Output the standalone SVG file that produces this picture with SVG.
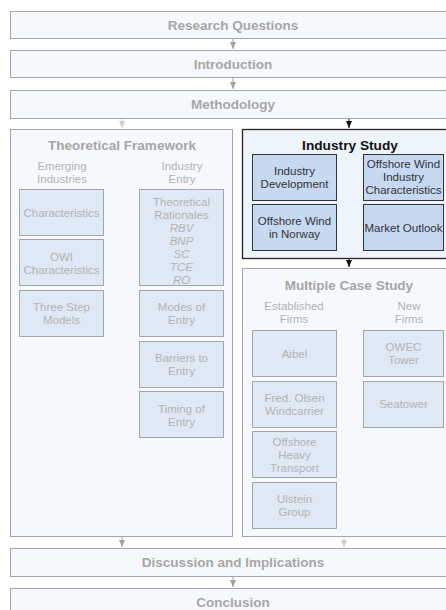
<svg xmlns="http://www.w3.org/2000/svg" width="446" height="610" viewBox="0 0 446 610">
<defs>
<style>
text{font-family:"Liberation Sans",Arial,sans-serif;text-anchor:middle}
.band{fill:#f5f9fd;stroke:#a6a6a6;stroke-width:1}
.cont{fill:#f5f9fd;stroke:#a6a6a6;stroke-width:1}
.contA{fill:#eef4fb;stroke:#262626;stroke-width:1.3}
.box{fill:#dfe8f5;stroke:#a6a6a6;stroke-width:1}
.boxA{fill:#c6d9f1;stroke:#333;stroke-width:1}
.t{font-size:13.5px;font-weight:bold;fill:#a6a6a6}
.tA{font-size:13.7px;font-weight:bold;fill:#111}
.s{font-size:11.5px;fill:#b3b3b3}
.sA{font-size:11.5px;fill:#333}
.i{font-style:italic}
.c1{fill:none;stroke:#a0a0a0;stroke-width:1}
.c2{fill:none;stroke:#d0d0d0;stroke-width:1}
.c3{fill:none;stroke:#111;stroke-width:1}
</style>
<marker id="m1" markerWidth="8" markerHeight="8" refX="7" refY="4" orient="auto" markerUnits="userSpaceOnUse"><path d="M0,1 L7,4 L0,7 Z" fill="#a0a0a0"/></marker>
<marker id="m2" markerWidth="8" markerHeight="8" refX="7" refY="4" orient="auto" markerUnits="userSpaceOnUse"><path d="M0,1 L7,4 L0,7 Z" fill="#d0d0d0"/></marker>
<marker id="m3" markerWidth="8" markerHeight="8" refX="7" refY="4" orient="auto" markerUnits="userSpaceOnUse"><path d="M0,1 L7,4 L0,7 Z" fill="#111"/></marker>
</defs>
<rect width="446" height="610" fill="#fff"/>

<g id="connectors">
<path class="c1" d="M233,39 V49" marker-end="url(#m1)"/>
<path class="c1" d="M233,77 V89" marker-end="url(#m1)"/>
<path class="c2" d="M122,118 V128" marker-end="url(#m2)"/>
<path class="c3" d="M343,118.5 H349 V128" marker-end="url(#m3)"/>
<path class="c3" d="M349,258 V267" marker-end="url(#m3)"/>
<path class="c1" d="M122,536 V547" marker-end="url(#m1)"/>
<path class="c2" d="M344,536 V547" marker-end="url(#m2)"/>
<path class="c1" d="M233,576 V587" marker-end="url(#m1)"/>
</g>

<g id="research-questions"><rect class="band" x="10.5" y="11.5" width="446" height="27"/><text class="t" x="233" y="29.5">Research Questions</text></g>
<g id="introduction"><rect class="band" x="10.5" y="50.5" width="446" height="27"/><text class="t" x="233" y="68.5">Introduction</text></g>
<g id="methodology"><rect class="band" x="10.5" y="90.5" width="446" height="28"/><text class="t" x="233" y="109">Methodology</text></g>

<g id="theoretical-framework">
<rect class="cont" x="10.5" y="129.5" width="222" height="407"/>
<text class="t" x="122" y="150">Theoretical Framework</text>
<text class="s" x="62" y="170">Emerging</text>
<text class="s" x="62" y="183">Industries</text>
<text class="s" x="182" y="170">Industry</text>
<text class="s" x="182" y="183">Entry</text>
</g>
<g id="characteristics"><rect class="box" x="19.5" y="189.5" width="84" height="46"/><text class="s" x="61.5" y="217">Characteristics</text></g>
<g id="owi-characteristics"><rect class="box" x="19.5" y="239.5" width="84" height="46"/><text class="s" x="61.5" y="261">OWI</text><text class="s" x="61.5" y="274">Characteristics</text></g>
<g id="three-step-models"><rect class="box" x="19.5" y="290.5" width="84" height="46"/><text class="s" x="61.5" y="311">Three Step</text><text class="s" x="61.5" y="324">Models</text></g>
<g id="theoretical-rationales"><rect class="box" x="139.5" y="189.5" width="84" height="96"/>
<text class="s" x="181.5" y="206">Theoretical</text><text class="s" x="181.5" y="219">Rationales</text>
<text class="s i" x="181.5" y="232">RBV</text><text class="s i" x="181.5" y="245">BNP</text><text class="s i" x="181.5" y="258">SC</text><text class="s i" x="181.5" y="271">TCE</text><text class="s i" x="181.5" y="284">RO</text></g>
<g id="modes-of-entry"><rect class="box" x="139.5" y="290.5" width="84" height="46"/><text class="s" x="181.5" y="311">Modes of</text><text class="s" x="181.5" y="324">Entry</text></g>
<g id="barriers-to-entry"><rect class="box" x="139.5" y="341.5" width="84" height="46"/><text class="s" x="181.5" y="362">Barriers to</text><text class="s" x="181.5" y="375">Entry</text></g>
<g id="timing-of-entry"><rect class="box" x="139.5" y="391.5" width="84" height="46"/><text class="s" x="181.5" y="413">Timing of</text><text class="s" x="181.5" y="426">Entry</text></g>

<g id="industry-study">
<rect class="contA" x="242.5" y="129.5" width="215" height="129"/>
<text class="tA" x="350" y="150">Industry Study</text>
</g>
<g id="industry-development"><rect class="boxA" x="252.5" y="154.5" width="84" height="46"/><text class="sA" x="294.5" y="175">Industry</text><text class="sA" x="294.5" y="188">Development</text></g>
<g id="owi-industry-characteristics"><rect class="boxA" x="363.5" y="154.5" width="80" height="46"/><text class="sA" x="403.5" y="168">Offshore Wind</text><text class="sA" x="403.5" y="181">Industry</text><text class="sA" x="403.5" y="194">Characteristics</text></g>
<g id="offshore-wind-norway"><rect class="boxA" x="252.5" y="204.5" width="84" height="46"/><text class="sA" x="294.5" y="225">Offshore Wind</text><text class="sA" x="294.5" y="238">in Norway</text></g>
<g id="market-outlook"><rect class="boxA" x="363.5" y="204.5" width="80" height="46"/><text class="sA" x="403.5" y="232">Market Outlook</text></g>

<g id="multiple-case-study">
<rect class="cont" x="242.5" y="268.5" width="215" height="268"/>
<text class="t" x="349" y="290">Multiple Case Study</text>
<text class="s" x="294" y="310">Established</text>
<text class="s" x="294" y="323">Firms</text>
<text class="s" x="409" y="310">New</text>
<text class="s" x="409" y="323">Firms</text>
</g>
<g id="aibel"><rect class="box" x="252.5" y="330.5" width="84" height="46"/><text class="s" x="294.5" y="358">Aibel</text></g>
<g id="fred-olsen"><rect class="box" x="252.5" y="381.5" width="84" height="46"/><text class="s" x="294.5" y="402">Fred. Olsen</text><text class="s" x="294.5" y="415">Windcarrier</text></g>
<g id="offshore-heavy-transport"><rect class="box" x="252.5" y="431.5" width="84" height="46"/><text class="s" x="294.5" y="446">Offshore</text><text class="s" x="294.5" y="459">Heavy</text><text class="s" x="294.5" y="472">Transport</text></g>
<g id="ulstein-group"><rect class="box" x="252.5" y="482.5" width="84" height="46"/><text class="s" x="294.5" y="503">Ulstein</text><text class="s" x="294.5" y="516">Group</text></g>
<g id="owec-tower"><rect class="box" x="363.5" y="330.5" width="80" height="46"/><text class="s" x="403.5" y="351">OWEC</text><text class="s" x="403.5" y="364">Tower</text></g>
<g id="seatower"><rect class="box" x="363.5" y="381.5" width="80" height="46"/><text class="s" x="403.5" y="408">Seatower</text></g>

<g id="discussion"><rect class="band" x="10.5" y="548.5" width="446" height="28"/><text class="t" x="233" y="567">Discussion and Implications</text></g>
<g id="conclusion"><rect class="band" x="10.5" y="588.5" width="446" height="30"/><text class="t" x="233" y="607">Conclusion</text></g>
</svg>
